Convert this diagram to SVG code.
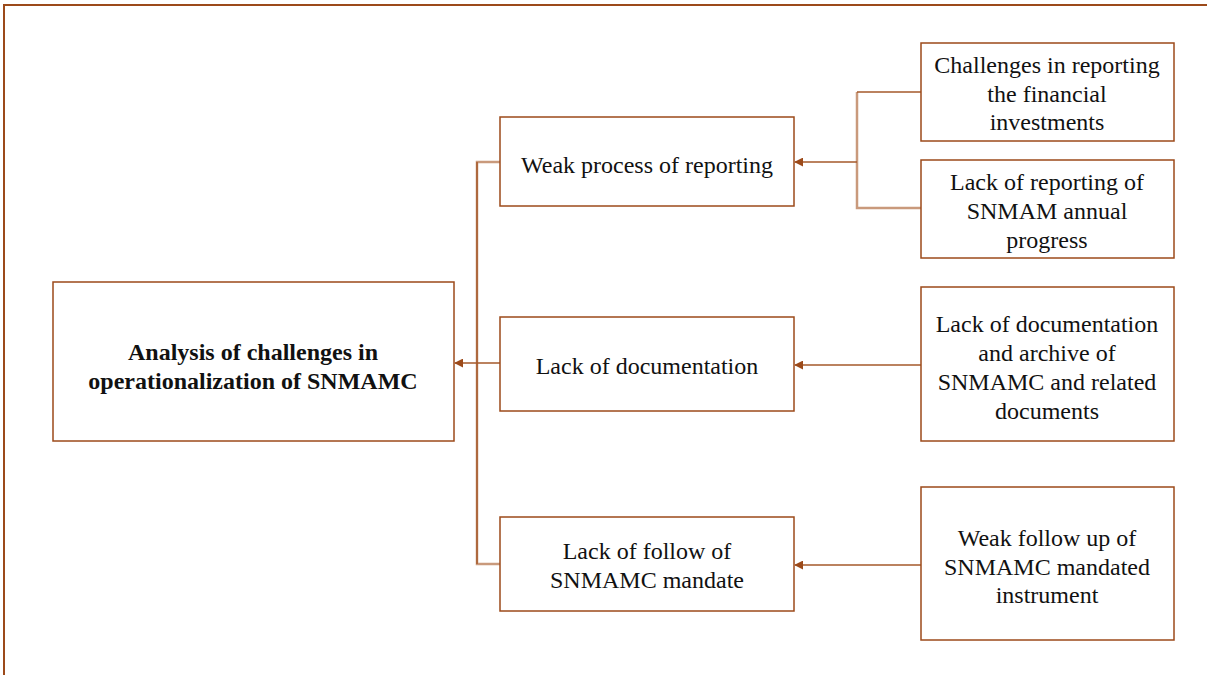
<svg xmlns="http://www.w3.org/2000/svg" width="1207" height="675" viewBox="0 0 1207 675">
  <style>
    .box { fill: #ffffff; stroke: #9c4a1a; stroke-width: 1.5; }
    .frame { fill: none; stroke: #9c4a1a; stroke-width: 2; }
    .link { fill: none; stroke: #a5582a; stroke-width: 1.5; }
    .soft { fill: none; stroke: #c99a7c; stroke-width: 2.5; }
    text { font-family: "Liberation Serif", "Times New Roman", serif; font-size: 24px; fill: #111111; text-anchor: middle; }
    .bold { font-weight: bold; }
  </style>
  <defs>
    <marker id="arrow" viewBox="0 0 10 10" refX="9" refY="5" markerWidth="9" markerHeight="9" markerUnits="userSpaceOnUse" orient="auto">
      <path d="M0,0 L10,5 L0,10 z" fill="#9c4a1a"/>
    </marker>
  </defs>
  <rect x="0" y="0" width="1207" height="675" fill="#ffffff"/>
  <!-- outer frame, open at right and bottom -->
  <path class="frame" d="M4,675 L4,5 L1207,5"/>

  <g id="connectors">
    <!-- left trunk -->
    <path class="soft" d="M500,162 L477,162 L477,564 L500,564"/>
    <path class="link" d="M477,162 L477,564"/>
    <path class="link" d="M500,363 L455,363" marker-end="url(#arrow)"/>
    <!-- top right bracket -->
    <path class="soft" d="M857,92 L857,208 L921,208"/>
    <path class="link" d="M921,92 L857,92"/>
    <path class="link" d="M857,162 L795,162" marker-end="url(#arrow)"/>
    <!-- single feeds -->
    <path class="link" d="M921,365 L795,365" marker-end="url(#arrow)"/>
    <path class="link" d="M921,565 L795,565" marker-end="url(#arrow)"/>
  </g>

  <g id="main">
    <rect class="box" x="53" y="282" width="401" height="159"/>
    <text class="bold" x="253" y="360">Analysis of challenges in</text>
    <text class="bold" x="253" y="389">operationalization of SNMAMC</text>
  </g>

  <g id="weak-reporting">
    <rect class="box" x="500" y="117" width="294" height="89"/>
    <text x="647" y="173">Weak process of reporting</text>
  </g>
  <g id="lack-documentation">
    <rect class="box" x="500" y="317" width="294" height="94"/>
    <text x="647" y="374">Lack of documentation</text>
  </g>
  <g id="lack-follow">
    <rect class="box" x="500" y="517" width="294" height="94"/>
    <text x="647" y="559">Lack of follow of</text>
    <text x="647" y="588">SNMAMC mandate</text>
  </g>

  <g id="financial-investments">
    <rect class="box" x="921" y="43" width="253" height="98"/>
    <text x="1047" y="73">Challenges in reporting</text>
    <text x="1047" y="102">the financial</text>
    <text x="1047" y="130">investments</text>
  </g>
  <g id="annual-progress">
    <rect class="box" x="921" y="160" width="253" height="98"/>
    <text x="1047" y="190">Lack of reporting of</text>
    <text x="1047" y="219">SNMAM annual</text>
    <text x="1047" y="248">progress</text>
  </g>
  <g id="archive">
    <rect class="box" x="921" y="287" width="253" height="154"/>
    <text x="1047" y="332">Lack of documentation</text>
    <text x="1047" y="361">and archive of</text>
    <text x="1047" y="390">SNMAMC and related</text>
    <text x="1047" y="419">documents</text>
  </g>
  <g id="mandated-instrument">
    <rect class="box" x="921" y="487" width="253" height="153"/>
    <text x="1047" y="546">Weak follow up of</text>
    <text x="1047" y="575">SNMAMC mandated</text>
    <text x="1047" y="603">instrument</text>
  </g>
</svg>
